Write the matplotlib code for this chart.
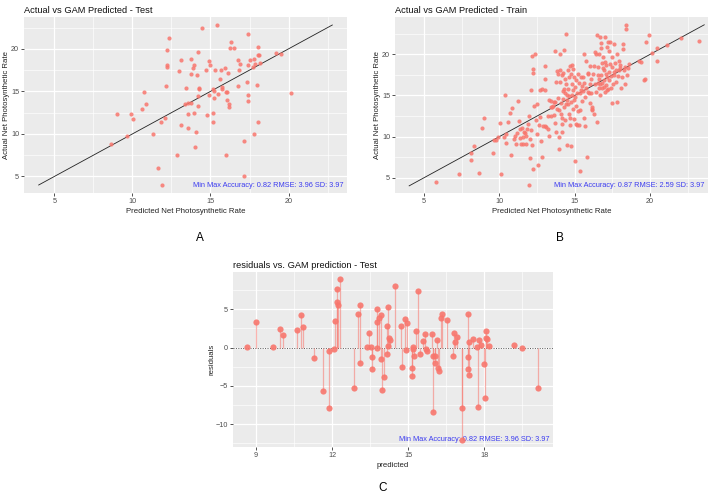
import matplotlib
matplotlib.use("Agg")
from matplotlib import pyplot as plt
import numpy as np

plt.rcParams['font.family'] = ['Liberation Sans', 'DejaVu Sans']

# test set: GAM prediction and observed rate
test_pred = [8.66, 8.99, 9.66, 9.93, 10.05, 10.63, 10.76, 10.84, 11.30, 11.63,
             11.86, 11.88, 12.07, 12.13, 12.21, 12.21, 12.24, 12.32, 12.85, 13.01,
             13.09, 13.10, 13.38, 13.45, 13.55, 13.57, 13.58, 13.76, 13.76, 13.77,
             13.85, 13.93, 13.93, 13.98, 14.06, 14.15, 14.18, 14.19, 14.22, 14.24,
             14.28, 14.48, 14.73, 14.77, 14.89, 14.93, 14.95, 15.15, 15.16, 15.17,
             15.20, 15.24, 15.29, 15.39, 15.47, 15.60, 15.66, 15.71, 15.73, 15.94,
             15.98, 15.98, 16.06, 16.07, 16.12, 16.17, 16.21, 16.28, 16.34, 16.53,
             16.78, 16.79, 16.84, 16.91, 17.12, 17.12, 17.36, 17.37, 17.37, 17.38,
             17.41, 17.56, 17.73, 17.76, 17.81, 17.86, 17.97, 18.01, 18.05, 18.07,
             18.09, 18.17, 19.17, 19.49, 20.13]
test_actual = [8.76, 12.29, 9.76, 12.33, 11.75, 12.93, 14.96, 13.49, 9.95, 5.98,
               11.36, 3.98, 11.87, 15.63, 18.11, 19.81, 17.84, 21.22, 7.50, 17.41,
               18.69, 11.05, 13.48, 15.40, 13.65, 12.37, 10.73, 18.86, 17.06, 13.67,
               17.75, 18.13, 12.43, 8.48, 10.26, 16.95, 13.28, 14.44, 19.57, 15.44,
               15.28, 22.48, 17.53, 12.27, 18.59, 14.63, 18.15, 12.50, 11.46, 15.27,
               15.05, 14.19, 17.49, 22.84, 14.67, 16.40, 17.46, 15.51, 15.33, 17.74,
               14.93, 7.58, 14.01, 14.97, 17.12, 13.47, 13.16, 20.13, 20.79, 20.08,
               15.68, 18.64, 17.54, 18.26, 9.22, 5.07, 16.11, 14.57, 21.77, 18.13,
               13.86, 18.71, 17.83, 9.96, 18.76, 18.21, 15.77, 11.41, 20.25, 19.27,
               19.24, 18.37, 19.47, 19.39, 14.83]

# train set
train_pred = [5.77, 7.30, 8.10, 8.14, 8.34, 8.67, 8.85, 8.96, 9.58, 9.65, 9.80, 9.91,
              10.02, 10.11, 10.31, 10.38, 10.40, 10.46, 10.55, 10.69, 10.75, 10.86,
              10.95, 11.04, 11.13, 11.19, 11.26, 11.28, 11.33, 11.37, 11.44, 11.50,
              11.55, 11.59, 11.64, 11.68, 11.73, 11.79, 11.84, 11.88, 11.93, 11.97,
              12.01, 12.06, 12.08, 12.10, 12.15, 12.19, 12.21, 12.23, 12.23, 12.30,
              12.37, 12.41, 12.46, 12.50, 12.57, 12.61, 12.68, 12.72, 12.79, 12.81,
              12.85, 12.92, 13.01, 13.05, 13.03, 13.05, 13.12, 13.19, 13.25, 13.30,
              13.32, 13.39, 13.43, 13.45, 13.52, 13.56, 13.61, 13.63, 13.67, 13.70,
              13.72, 13.74, 13.78, 13.81, 13.83, 13.87, 13.89, 13.92, 13.96, 13.98,
              14.00, 14.03, 14.05, 14.07, 14.09, 14.12, 14.14, 14.16, 14.18, 14.20,
              14.23, 14.25, 14.27, 14.29, 14.31, 14.34, 14.36, 14.38, 14.40, 14.42,
              14.45, 14.47, 14.49, 14.51, 14.54, 14.56, 14.58, 14.60, 14.62, 14.65,
              14.67, 14.69, 14.71, 14.73, 14.76, 14.78, 14.80, 14.82, 14.84, 14.87,
              14.89, 14.91, 14.93, 14.96, 14.98, 15.00, 15.02, 15.04, 15.07, 15.09,
              15.11, 15.15, 15.18, 15.22, 15.24, 15.26, 15.29, 15.33, 15.35, 15.38,
              15.42, 15.44, 15.46, 15.49, 15.53, 15.55, 15.60, 15.62, 15.64, 15.66,
              15.68, 15.75, 15.77, 15.84, 15.86, 15.88, 15.90, 15.95, 15.99, 16.02,
              16.04, 16.06, 16.08, 16.13, 16.15, 16.17, 16.22, 16.26, 16.28, 16.33,
              16.37, 16.39, 16.44, 16.48, 16.50, 16.53, 16.55, 16.57, 16.59, 16.61,
              16.64, 16.66, 16.68, 16.70, 16.72, 16.75, 16.77, 16.79, 16.81, 16.84,
              16.88, 16.90, 16.92, 16.95, 16.97, 16.99, 17.01, 17.04, 17.06, 17.08,
              17.10, 17.12, 17.15, 17.17, 17.21, 17.23, 17.26, 17.28, 17.30, 17.32,
              17.37, 17.39, 17.41, 17.46, 17.48, 17.50, 17.54, 17.59, 17.61, 17.63,
              17.68, 17.72, 17.77, 17.81, 17.83, 17.88, 17.92, 17.94, 17.99, 18.03,
              18.08, 18.16, 18.21, 18.23, 18.27, 18.32, 18.36, 18.41, 18.43, 18.50,
              18.54, 18.58, 19.27, 19.38, 19.58, 19.65, 19.76, 19.93, 20.13, 20.44,
              20.49, 21.11, 22.08, 23.25]
train_actual = [4.45, 5.5, 7.1, 8.05, 8.9, 5.55, 11.1, 12.2, 8.0, 9.6, 9.55, 9.95,
                11.7, 5.5, 9.9, 15.0, 10.3, 9.2, 11.75, 12.9, 7.8, 13.5,
                9.75, 10.1, 9.15, 10.45, 14.3, 11.95, 10.9, 9.85, 9.15, 11.1,
                9.9, 9.15, 10.6, 10.45, 10.1, 9.15, 10.95, 11.5, 12.5, 4.05,
                9.7, 7.45, 15.65, 10.8, 9.0, 19.8, 18.2, 6.0, 17.7, 13.7,
                20.0, 12.05, 13.95, 10.3, 6.5, 11.45, 15.7, 12.4, 9.45, 7.5,
                15.75, 11.25, 17.0, 18.6, 15.65, 11.25, 11.2, 10.95, 12.55, 14.45,
                10.05, 14.35, 13.55, 12.5, 13.6, 13.7, 14.2, 12.65, 11.6, 14.2,
                20.45, 10.5, 16.7, 13.3, 17.95, 17.6, 14.75, 9.95, 8.45, 13.2,
                18.1, 20.1, 16.7, 14.1, 12.8, 12.3, 17.5, 10.55, 11.5, 15.5,
                17.75, 14.55, 13.55, 15.8, 20.55, 12.0, 15.25, 17.05, 14.0, 16.45,
                22.5, 14.5, 8.95, 15.1, 18.1, 14.0, 15.8, 12.8, 17.25, 14.9,
                18.6, 12.2, 11.4, 14.2, 8.8, 17.6, 16.45, 15.05, 18.7, 13.4,
                18.2, 15.7, 14.45, 17.25, 12.1, 16.05, 7.05, 14.85, 11.5, 16.85,
                13.7, 11.35, 15.3, 17.65, 13.15, 11.4, 16.5, 5.8, 15.25, 13.2,
                15.65, 17.2, 16.1, 14.35, 17.25, 15.55, 20.1, 12.2, 16.5, 11.25,
                14.85, 19.25, 15.95, 7.5, 17.75, 15.45, 17.6, 15.35, 18.6, 14.1,
                16.45, 15.35, 17.05, 13.55, 13.4, 13.2, 17.6, 18.6, 12.75, 20.25,
                16.4, 15.45, 20.1, 22.3, 11.8, 17.5, 16.55, 18.5, 15.85, 20.05,
                16.95, 22.15, 16.4, 15.05, 21.35, 17.5, 20.75, 16.55, 18.9, 15.95,
                18.4, 19.65, 16.05, 18.05, 16.9, 19.1, 15.45, 22.1, 17.6, 16.25,
                18.7, 15.7, 20.85, 17.25, 21.55, 15.8, 17.9, 20.4, 16.85, 21.55,
                18.8, 15.95, 17.35, 14.05, 18.5, 19.7, 16.45, 17.9, 21.25, 17.5,
                19.0, 18.1, 16.7, 14.25, 20.1, 17.35, 19.2, 18.1, 18.65, 18.3,
                15.85, 17.3, 20.6, 21.25, 18.1, 16.45, 18.5, 23.05, 23.6, 17.5,
                18.3, 18.8, 19.25, 19.05, 16.85, 17.05, 21.55, 22.35, 20.2, 19.25,
                20.75, 21.15, 21.95, 21.6]

test_note = "Min Max Accuracy: 0.82 RMSE: 3.96 SD: 3.97"
train_note = "Min Max Accuracy: 0.87 RMSE: 2.59 SD: 3.97"

PT = '#F8766D'
BLUE = '#3C3CF0'
LAB = 5.6


def gg_style(ax, major, minor):
    ax.set_facecolor('#EBEBEB')
    for s in ax.spines.values():
        s.set_visible(False)
    ax.set_xticks(major[0])
    ax.set_yticks(major[1])
    ax.set_xticks(minor[0], minor=True)
    ax.set_yticks(minor[1], minor=True)
    ax.grid(which='major', color='white', lw=0.9)
    ax.grid(which='minor', color='white', lw=0.45)
    ax.set_axisbelow(True)
    ax.tick_params(which='major', length=2, width=0.6, color='#333333',
                   labelsize=5.2, labelcolor='#4D4D4D', pad=1.5)
    ax.tick_params(which='minor', length=0)


def px_axes(fig, l, t, r, b):
    W, H = 720, 494
    return fig.add_axes([l / W, 1 - b / H, (r - l) / W, (b - t) / H])


fig = plt.figure(figsize=(7.2, 4.94), dpi=100)
fig.patch.set_facecolor('white')

sc_major = ([5, 10, 15, 20], [5, 10, 15, 20])
sc_minor = ([2.5, 7.5, 12.5, 17.5, 22.5], [2.5, 7.5, 12.5, 17.5, 22.5])

panels = [
    ((24, 17, 347, 193), test_pred, test_actual, test_note,
     'Actual vs GAM Predicted - Test', (3.06, 23.74), (3.06, 23.74), 22.8, 'A', 200),
    ((395, 17, 708, 193), train_pred, train_actual, train_note,
     'Actual vs GAM Predicted - Train', (3.06, 23.85), (3.13, 24.55), 23.6, 'B', 560),
]

for box, xs, ys, note, title, xl, yl, top, letter, lx in panels:
    ax = px_axes(fig, *box)
    gg_style(ax, sc_major, sc_minor)
    ax.plot([4, top], [4, top], color='#222222', lw=0.6, zorder=2)
    ax.scatter(xs, ys, s=9, color=PT, alpha=0.85, linewidths=0, zorder=3)
    ax.set_xlim(*xl)
    ax.set_ylim(*yl)
    ax.set_xlabel('Predicted Net Photosynthetic Rate', fontsize=LAB, color='#222222', labelpad=2)
    ax.set_ylabel('Actual Net Photosynthetic Rate', fontsize=LAB, color='#222222', labelpad=0.5)
    ax.set_title(title, loc='left', fontsize=6.7, color='#111111', pad=3)
    ax.text(0.99, 0.025, note, transform=ax.transAxes, ha='right', va='bottom',
            fontsize=5.3, color=BLUE)
    fig.text(lx / 720, 1 - 238 / 494, letter, ha='center', va='center', fontsize=8.5)

# residuals panel
test_resid = np.array(test_actual) - np.array(test_pred)
ax = px_axes(fig, 233, 272, 553, 447)
gg_style(ax, ([9, 12, 15, 18], [-10, -5, 0, 5]),
         ([10.5, 13.5, 16.5, 19.5], [-12.5, -7.5, -2.5, 2.5, 7.5]))
ax.axhline(0, color='#555555', lw=0.7, ls=(0, (1, 1.5)), zorder=2)
ax.vlines(test_pred, 0, test_resid, color=PT, alpha=0.55, lw=0.9, zorder=3)
ax.scatter(test_pred, test_resid, s=20, color=PT, alpha=0.9, linewidths=0, zorder=4)
ax.set_xlim(8.09, 20.71)
ax.set_ylim(-13.0, 9.88)
ax.set_xlabel('predicted', fontsize=LAB, color='#222222', labelpad=2)
ax.set_ylabel('residuals', fontsize=LAB, color='#222222', labelpad=0.5)
ax.set_title('residuals vs. GAM prediction - Test', loc='left', fontsize=6.7,
             color='#111111', pad=3)
ax.text(0.99, 0.025, test_note, transform=ax.transAxes, ha='right', va='bottom',
        fontsize=5.3, color=BLUE)
fig.text(383 / 720, 1 - 488 / 494, 'C', ha='center', va='center', fontsize=8.5)

fig.savefig('out.png', dpi=100)
